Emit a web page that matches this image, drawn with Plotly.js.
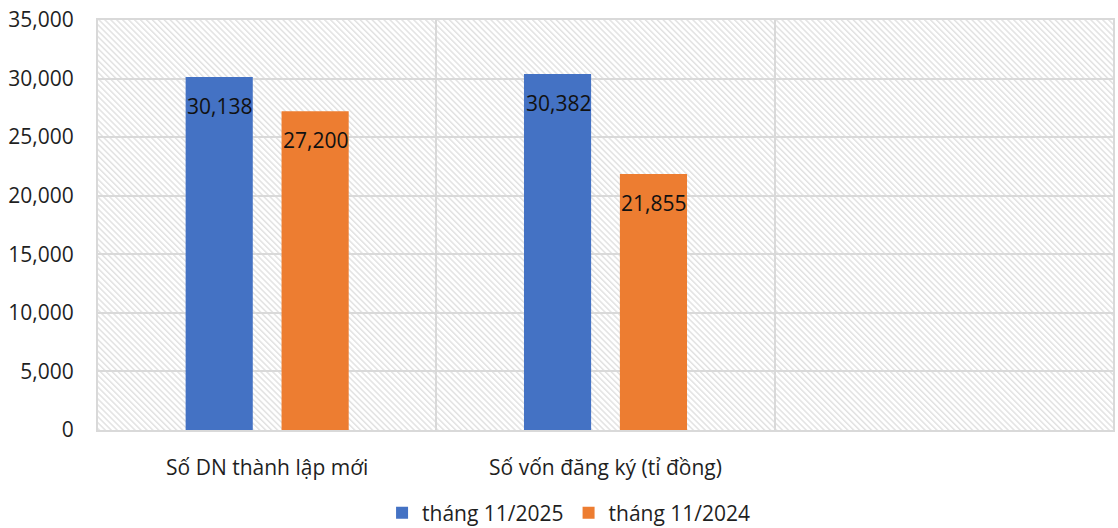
<!DOCTYPE html>
<html>
<head>
<meta charset="utf-8">
<script src="https://cdn.plot.ly/plotly-3.0.1.min.js"></script>
<style>html,body{margin:0;padding:0;background:#fff;}#chart{width:1118px;height:528px;}</style>
</head>
<body>
<div id="chart"></div>
<script>
const categories = ["Số DN thành lập mới", "Số vốn đăng ký (tỉ đồng)", " "];
const seriesNames = ["tháng 11/2025", "tháng 11/2024"];
const values2025 = [30138, 30382, null];
const values2024 = [27200, 21855, null];
const yTicks = [0, 5000, 10000, 15000, 20000, 25000, 30000, 35000];

const colors = ["#4472C4", "#ED7D31"];
const FONT = "Open Sans, Liberation Sans, sans-serif";

const traces = [values2025, values2024].map((vals, i) => ({
  type: "bar",
  name: seriesNames[i],
  x: categories,
  y: vals,
  marker: {color: colors[i], line: {width: 0}},
  hoverinfo: "skip"
}));

const annotations = [];
[values2025, values2024].forEach((vals, i) => {
  vals.forEach((v, j) => {
    if (v === null) return;
    annotations.push({
      x: categories[j], y: v, xref: "x", yref: "y",
      xshift: i === 0 ? -47.5 : 48, yshift: -29,
      text: v.toLocaleString("en-US"),
      showarrow: false, xanchor: "center", yanchor: "middle",
      font: {family: FONT, size: 21, color: "#111"}
    });
  });
});

const W = 1015, H = 410;
const svg = `<svg xmlns="http://www.w3.org/2000/svg" width="${W}" height="${H}" viewBox="0 0 ${W} ${H}" preserveAspectRatio="none"><defs><pattern id="p" width="4.2" height="4.2" patternUnits="userSpaceOnUse" patternTransform="rotate(-45)"><rect x="0" y="0" width="1.5" height="4.2" fill="#e2e2e2"/></pattern></defs><rect width="${W}" height="${H}" fill="#fff"/><rect width="${W}" height="${H}" fill="url(#p)"/></svg>`;
const bgSrc = "data:image/svg+xml;charset=utf-8," + encodeURIComponent(svg);

const layout = {
  width: 1118, height: 528,
  margin: {l: 98, r: 5, t: 20, b: 98},
  paper_bgcolor: "#fff",
  plot_bgcolor: "#fff",
  font: {family: FONT, size: 21, color: "#1f1f1f"},
  barmode: "group",
  bargap: 0.433,
  bargroupgap: 0.30,
  showlegend: true,
  legend: {
    orientation: "h", xref: "container", yref: "container",
    x: 0.509, xanchor: "center", y: 0.028, yanchor: "middle",
    font: {family: FONT, size: 21, color: "#1f1f1f"},
    itemwidth: 30, traceorder: "normal"
  },
  xaxis: {
    type: "category",
    tickson: "boundaries",
    ticks: "", ticklen: 0,
    showgrid: true, gridcolor: "#d9d9d9", gridwidth: 2,
    showline: true, linecolor: "#d9d9d9", linewidth: 2, mirror: true,
    ticklabelstandoff: 18,
    tickfont: {family: FONT, size: 21, color: "#1f1f1f"},
    fixedrange: true
  },
  yaxis: {
    range: [0, 35000],
    tickvals: yTicks,
    tickformat: ",d",
    ticks: "",
    showgrid: true, gridcolor: "#d9d9d9", gridwidth: 2,
    showline: true, linecolor: "#d9d9d9", linewidth: 2, mirror: true,
    zeroline: false,
    ticklabelstandoff: 18,
    tickfont: {family: FONT, size: 21, color: "#1f1f1f"},
    fixedrange: true
  },
  images: [{
    source: bgSrc, xref: "paper", yref: "paper",
    x: 0, y: 1, sizex: 1, sizey: 1,
    xanchor: "left", yanchor: "top",
    sizing: "stretch", layer: "below"
  }],
  annotations: annotations
};

Plotly.newPlot("chart", traces, layout, {displayModeBar: false, staticPlot: true});
</script>
</body>
</html>
